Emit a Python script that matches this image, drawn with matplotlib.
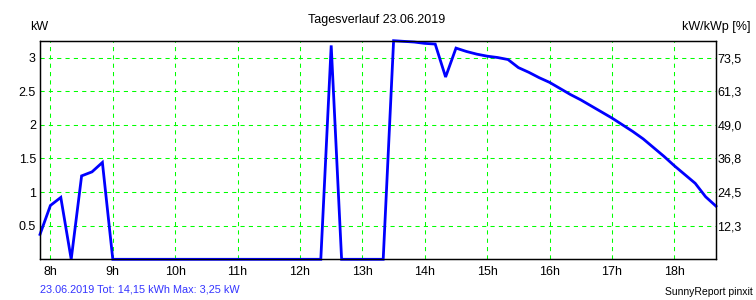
import matplotlib
matplotlib.use("Agg")
import matplotlib.pyplot as plt

plt.rcParams['font.family'] = ['Liberation Sans', 'DejaVu Sans']

# 10-minute values from 7:50 to 18:40 (kW)
start_hour = 7 + 50 / 60
power_kw = [
    0.37, 0.80, 0.92, 0.00, 1.24, 1.30, 1.44, 0.00,          # 7:50 - 9:00
    0, 0, 0, 0, 0, 0,                                      # 9:10 - 10:00
    0, 0, 0, 0, 0, 0,                                      # 10:10 - 11:00
    0, 0, 0, 0, 0, 0,                                      # 11:10 - 12:00
    0, 0, 3.18, 0, 0, 0,                                   # 12:10 - 13:00
    0, 0, 3.25, 3.24, 3.23, 3.21,                          # 13:10 - 14:00
    3.20, 2.71, 3.14, 3.09, 3.05, 3.02,                    # 14:10 - 15:00
    3.00, 2.97, 2.85, 2.78, 2.70, 2.63,                    # 15:10 - 16:00
    2.54, 2.45, 2.37, 2.28, 2.19, 2.10,                    # 16:10 - 17:00
    2.00, 1.90, 1.79, 1.66, 1.53, 1.39,                    # 17:10 - 18:00
    1.26, 1.13, 0.93, 0.79,                                # 18:10 - 18:40
]
hours = [start_hour + i / 6 for i in range(len(power_kw))]

hour_ticks = list(range(8, 19))
hour_labels = [f"{h}h" for h in hour_ticks]
kw_ticks = [0.5, 1, 1.5, 2, 2.5, 3]
kw_labels = ["0.5", "1", "1.5", "2", "2.5", "3"]
pct_labels = ["12,3", "24,5", "36,8", "49,0", "61,3", "73,5"]

title = "Tagesverlauf 23.06.2019"
summary = "23.06.2019 Tot: 14,15 kWh Max: 3,25 kW"

W, H = 756, 300
fig = plt.figure(figsize=(W / 100, H / 100), dpi=100)
left, right, top, bottom = 40, 716, 40.7, 259.3
ax = fig.add_axes([left / W, 1 - bottom / H, (right - left) / W, (bottom - top) / H])

ax.plot(hours, power_kw, color="#0000ff", lw=2.0, solid_joinstyle="miter",
        clip_on=False, zorder=3)

ax.set_xlim(start_hour, 18 + 40 / 60)
ax.set_ylim(0, 3.25)
ax.set_xticks(hour_ticks)
ax.set_xticklabels(hour_labels)
ax.set_yticks(kw_ticks)
ax.set_yticklabels(kw_labels)

ax2 = ax.twinx()
ax2.set_ylim(ax.get_ylim())
ax2.set_yticks(kw_ticks)
ax2.set_yticklabels(pct_labels)
ax2.tick_params(length=0, labelsize=9, pad=1)

ax.tick_params(length=0, labelsize=9, colors="black")
ax.tick_params(axis="x", pad=5)
ax.tick_params(axis="y", pad=3)
ax.grid(True, color="#00ff00", lw=0.75, linestyle=(0, (4, 4)))
ax.tick_params(grid_color="#00ff00")
ax.set_axisbelow(True)

for a in (ax, ax2):
    for s in a.spines.values():
        s.set_color("black")
        s.set_linewidth(0.9)

fig.text(377 / W, 1 - 20 / H, title, ha="center", va="center", fontsize=9)
fig.text(30 / W, 1 - 27 / H, "kW", ha="left", va="center", fontsize=9)
fig.text(750 / W, 1 - 27 / H, "kW/kWp [%]", ha="right", va="center", fontsize=9)
fig.text(40 / W, 1 - 289 / H, summary, ha="left", va="center", fontsize=7.8, color="#3333ff")
fig.text(753 / W, 1 - 292 / H, "SunnyReport pinxit", ha="right", va="center", fontsize=7.5)

fig.savefig("out.png", dpi=100)
